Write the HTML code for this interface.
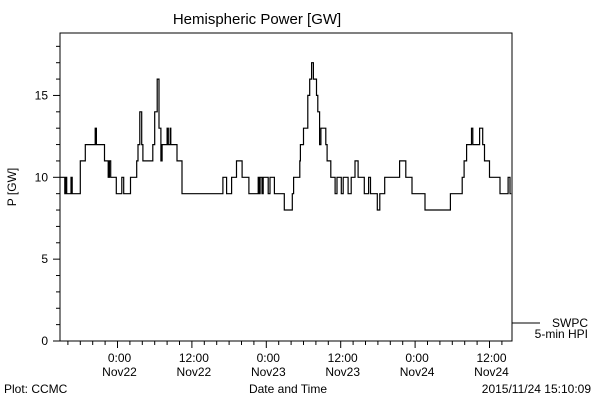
<!DOCTYPE html>
<html><head><meta charset="utf-8"><style>
body{margin:0;background:#fff}
svg text{font-family:"Liberation Sans","DejaVu Sans",sans-serif;font-size:12px;fill:#000}
</style></head><body>
<svg id="chart" width="600" height="400" viewBox="0 0 600 400" xmlns="http://www.w3.org/2000/svg">
<text x="257" y="24" text-anchor="middle" style="font-size:15px">Hemispheric Power [GW]</text>
<rect x="60" y="33" width="452" height="308" fill="none" stroke="#000" stroke-width="1"/>
<g id="yaxis"></g>
<g id="xaxis"></g>
<text transform="translate(16,187) rotate(-90)" text-anchor="middle">P [GW]</text>
<text x="288" y="393" text-anchor="middle">Date and Time</text>
<text x="4" y="393">Plot: CCMC</text>
<text x="591" y="393" text-anchor="end">2015/11/24 15:10:09</text>
<g>
<line x1="512" y1="323" x2="540" y2="323" stroke="#000"/>
<text x="588" y="327" text-anchor="end">SWPC</text>
<text x="588" y="338" text-anchor="end">5-min HPI</text>
</g>
<path id="series" fill="none" stroke="#000" stroke-width="1.2"/>
</svg>
<script>
const times=[-9.3,-8.5,-8.3,-8.2,-7.5,-7.3,-6.0,-5.2,-3.6,-3.4,-2.1,-1.5,-1.3,-1.1,-0.2,0.7,1.0,2.1,3.1,3.3,3.6,3.9,4.1,5.7,6.0,6.4,6.7,7.0,7.2,8.0,8.2,8.5,8.6,9.6,10.4,17.0,17.6,18.4,19.2,20.1,21.2,22.7,22.8,23.0,23.3,23.5,24.3,24.6,25.3,26.9,28.2,28.4,29.4,29.5,30.0,30.7,31.0,31.3,31.6,32.1,32.3,32.6,32.8,33.6,33.8,34.4,35.1,35.4,36.1,36.4,37.2,37.7,38.3,38.8,39.8,40.5,40.8,41.9,42.3,43.1,45.5,46.5,47.5,49.6,53.7,55.6,55.9,56.3,57.1,57.3,58.4,58.9,59.2,60.0,61.7,63.0,63.3];
const values=[10,9,10,9,10,9,11,12,13,12,11,10,11,10,9,10,9,10,11,12,14,12,11,12,14,16,13,11,12,13,12,13,12,11,9,10,9,10,11,10,9,10,9,10,9,10,9,10,9,8,9,10,11,12,13,15,16,17,16,15,14,12,13,12,11,10,9,10,9,10,9,10,11,10,9,10,9,8,9,10,11,10,9,8,9,10,11,12,13,12,13,12,11,10,9,10,9];
const endTime=63.5;
const yTicks=[0,5,10,15];
const xTickLabels=[["0:00","Nov22"],["12:00","Nov22"],["0:00","Nov23"],["12:00","Nov23"],["0:00","Nov24"],["12:00","Nov24"]];
const xTickHours=[0,12,24,36,48,60];
const NS="http://www.w3.org/2000/svg";
const xs=h=>117.5+h*6.2;
const ys=v=>341-v*16.37;
function mk(tag,attrs,parent){const e=document.createElementNS(NS,tag);for(const k in attrs)e.setAttribute(k,attrs[k]);parent.appendChild(e);return e;}
const ya=document.getElementById('yaxis');
for(let v=0;v<=18;v++){const major=v%5===0;const t=mk('line',{x1:60-(major?7:4),x2:60,y1:ys(v),y2:ys(v),stroke:'#000'},ya);

}
yTicks.forEach(v=>{const t=mk('text',{x:48,y:ys(v)+4,'text-anchor':'end'},ya);t.textContent=v;

});
const xa=document.getElementById('xaxis');
for(let h=-8;h<=62;h+=2){const major=h%12===0;const t=mk('line',{x1:xs(h),x2:xs(h),y1:341,y2:341+(major?7:4),stroke:'#000'},xa);

}
xTickHours.forEach((h,i)=>{const t=mk('text',{x:xs(h)+2,y:362,'text-anchor':'middle'},xa);t.textContent=xTickLabels[i][0];


const d=mk('text',{x:xs(h)+2,y:376,'text-anchor':'middle'},xa);d.textContent=xTickLabels[i][1];

});
let d='';
for(let i=0;i<times.length;i++){const x=xs(times[i]),y=ys(values[i]);
d+=(i===0?'M':'L')+x.toFixed(1)+','+y.toFixed(1);
const nx=xs(i+1<times.length?times[i+1]:endTime);d+='L'+nx.toFixed(1)+','+y.toFixed(1);}
document.getElementById('series').setAttribute('d',d);
</script>
</body></html>
